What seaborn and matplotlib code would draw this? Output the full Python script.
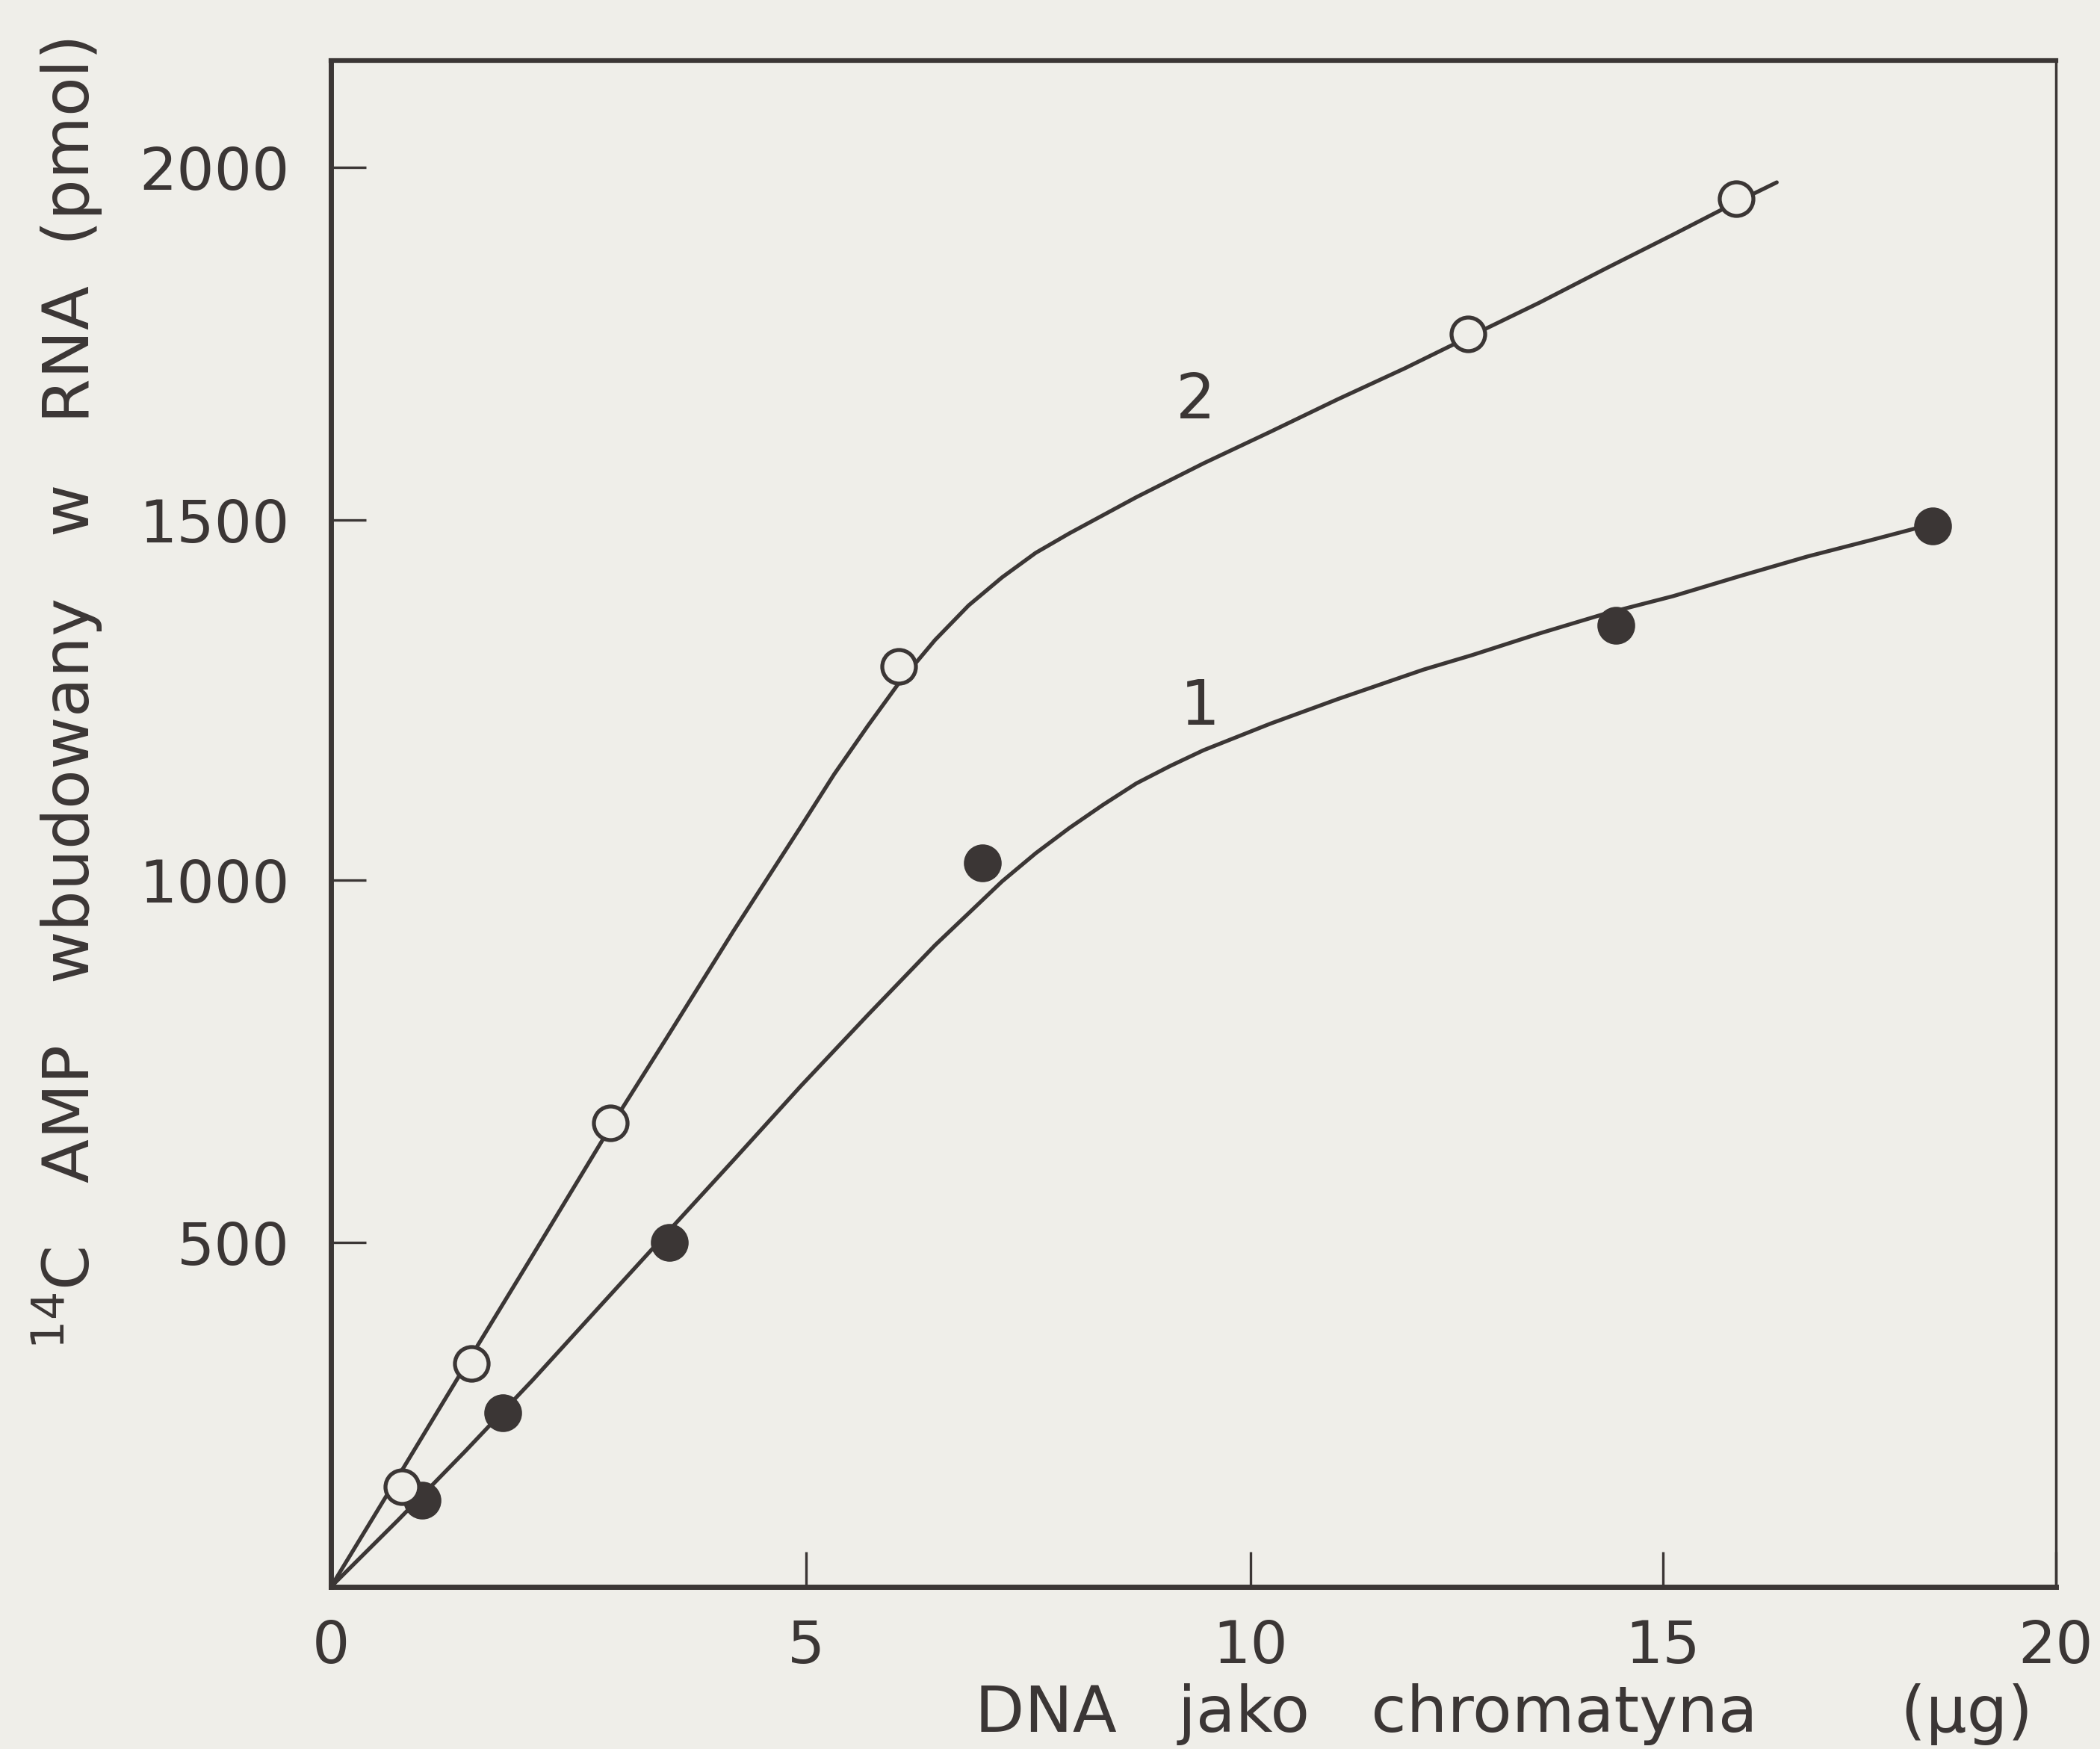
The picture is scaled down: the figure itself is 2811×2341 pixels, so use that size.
import matplotlib
matplotlib.use("Agg")
import matplotlib.pyplot as plt
import seaborn as sns
import pandas as pd
import numpy as np

# ---- data ----
# measured points, series 2 (open circles)
x_open = [0.75, 1.48, 2.94, 6.04, 12.64, 15.94]
y_open = [146, 325, 665, 1296, 1764, 1956]
# measured points, series 1 (filled circles)
x_fill = [0.96, 1.81, 3.56, 6.98, 14.43, 18.43]
y_fill = [126, 253, 500, 1024, 1353, 1491]
# hand-drawn curve 2
curve2_x = [0.0, 0.706, 1.412, 2.119, 2.938, 3.531, 4.237, 4.944, 5.317, 5.695, 6.042,
            6.450, 6.828, 7.205, 7.583, 7.961, 8.716, 9.471, 10.244, 11.059, 11.873,
            12.639, 13.502, 14.316, 15.137, 15.939, 16.451]
curve2_y = [0, 160, 321, 481, 659, 782, 930, 1074, 1147, 1214, 1273,
            1333, 1381, 1420, 1454, 1481, 1532, 1580, 1625, 1671, 1715,
            1759, 1808, 1857, 1905, 1951, 1979]
# hand-drawn curve 1
curve1_x = [0.0, 0.706, 1.412, 2.119, 2.825, 3.531, 4.237, 4.944, 5.695, 6.450, 6.828,
            7.205, 7.583, 7.961, 8.338, 8.716, 9.094, 9.471, 10.244, 11.059, 12.101,
            12.687, 13.502, 14.316, 15.137, 15.990, 16.843, 17.696, 18.635]
curve1_y = [0, 97, 197, 300, 407, 513, 614, 716, 814, 910, 954,
            998, 1037, 1072, 1104, 1134, 1158, 1180, 1217, 1251, 1292,
            1312, 1342, 1370, 1394, 1422, 1449, 1473, 1500]
curve_labels = ["1", "2"]
curve_label_x = [9.43, 9.38]
curve_label_y = [1240, 1669]
x_ticks = [0, 5, 10, 15, 20]
y_ticks = [500, 1000, 1500, 2000]
x_label = "DNA   jako   chromatyna       (\u00b5g)"
y_label = r"$^{14}$C   AMP   wbudowany   w   RNA  (pmol)"

# the printed axes are slightly non-uniform: positions of the ticks on the page
x_tick_pos = [0, 354, 685, 992, 1285]
y_tick_pos = [0, 257, 528, 797, 1060]

paper = "#efeee9"
ink = "#3b3635"

sns.set_theme(style="ticks")
plt.rcParams["font.family"] = ["DejaVu Sans"]
plt.rcParams["mathtext.fontset"] = "dejavusans"

fig = plt.figure(figsize=(28.11, 23.41), dpi=100, facecolor=paper)
ax = fig.add_axes([443 / 2811, 1 - 2124 / 2341, (2752 - 443) / 2811, (2124 - 81) / 2341])
ax.set_facecolor(paper)

xv = np.array(x_ticks, dtype=float)
xp = np.array(x_tick_pos, dtype=float)
yv = np.array([0] + y_ticks, dtype=float)
yp = np.array(y_tick_pos, dtype=float)


def _ext(v, src, dst):
    v = np.asarray(v, dtype=float)
    out = np.interp(v, src, dst)
    lo = v < src[0]
    hi = v > src[-1]
    out = np.where(lo, dst[0] + (v - src[0]) * (dst[1] - dst[0]) / (src[1] - src[0]), out)
    out = np.where(hi, dst[-1] + (v - src[-1]) * (dst[-1] - dst[-2]) / (src[-1] - src[-2]), out)
    return out


ax.set_xscale("function", functions=(lambda v: _ext(v, xv, xp), lambda p: _ext(p, xp, xv)))
ax.set_yscale("function", functions=(lambda v: _ext(v, yv, yp), lambda p: _ext(p, yp, yv)))

c1 = pd.DataFrame({"x": curve1_x, "y": curve1_y})
c2 = pd.DataFrame({"x": curve2_x, "y": curve2_y})
sns.lineplot(data=c1, x="x", y="y", ax=ax, color=ink, lw=3.8, sort=False, estimator=None)
sns.lineplot(data=c2, x="x", y="y", ax=ax, color=ink, lw=3.8, sort=False, estimator=None)
for ln in ax.lines:
    ln.set_solid_joinstyle("round")
    ln.set_solid_capstyle("round")

sns.scatterplot(x=x_fill, y=y_fill, ax=ax, s=1150, color=ink, edgecolor=ink, linewidth=2.5, zorder=5)
sns.scatterplot(x=x_open, y=y_open, ax=ax, s=1050, color=paper, edgecolor=ink, linewidth=3.8, zorder=5)

for t, tx, ty in zip(curve_labels, curve_label_x, curve_label_y):
    ax.text(tx, ty, t, fontsize=60, color=ink, ha="center", va="center")

ax.set_xlim(0, 20)
ax.set_ylim(0, 2152)
ax.set_xticks(x_ticks)
ax.set_yticks(y_ticks)
ax.set_xticklabels([str(v) for v in x_ticks])
ax.set_yticklabels([str(v) for v in y_ticks])
ax.minorticks_off()
ax.tick_params(axis="both", which="both", direction="in", length=34, width=2.4,
               color=ink, labelcolor=ink, labelsize=57)
ax.tick_params(axis="x", pad=30)
ax.tick_params(axis="y", pad=40)
ax.tick_params(top=False, right=False)

for side, lw in [("left", 5.0), ("bottom", 5.0), ("top", 4.5), ("right", 2.5)]:
    ax.spines[side].set_visible(True)
    ax.spines[side].set_linewidth(lw)
    ax.spines[side].set_color(ink)

ax.set_xlabel(x_label, fontsize=62, color=ink, va="center", ha="center")
ax.xaxis.set_label_coords(0.680, -0.0837)
ax.set_ylabel(y_label, fontsize=62, color=ink, va="center", ha="center")
ax.yaxis.set_label_coords(-0.153, 0.585)

fig.savefig("out.png", dpi=100, facecolor=paper)
